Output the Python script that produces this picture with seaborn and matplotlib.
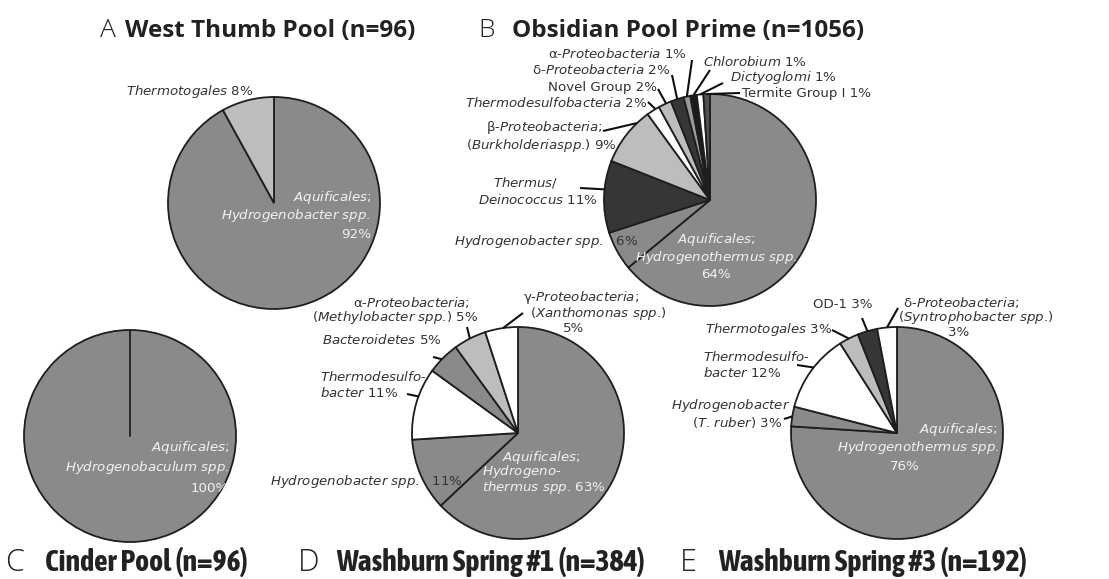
import re
import numpy as np
import matplotlib
matplotlib.use("Agg")
import matplotlib.pyplot as plt
import seaborn as sns

# ---------------- data ----------------
a_taxa = ["Aquificales; Hydrogenobacter spp.", "Thermotogales"]
a_pct = [92, 8]

b_taxa = ["Aquificales; Hydrogenothermus spp.", "Hydrogenobacter spp.",
          "Thermus/Deinococcus", "β-Proteobacteria; (Burkholderia spp.)",
          "Thermodesulfobacteria", "Novel Group", "δ-Proteobacteria",
          "α-Proteobacteria", "Chlorobium", "Dictyoglomi", "Termite Group I"]
b_pct = [64, 6, 11, 9, 2, 2, 2, 1, 1, 1, 1]

c_taxa = ["Aquificales; Hydrogenobaculum spp."]
c_pct = [100]

d_taxa = ["Aquificales; Hydrogenothermus spp.", "Hydrogenobacter spp.",
          "Thermodesulfobacter", "Bacteroidetes",
          "α-Proteobacteria; (Methylobacter spp.)",
          "γ-Proteobacteria; (Xanthomonas spp.)"]
d_pct = [63, 11, 11, 5, 5, 5]

e_taxa = ["Aquificales; Hydrogenothermus spp.", "Hydrogenobacter (T. ruber)",
          "Thermodesulfobacter", "Thermotogales", "OD-1",
          "δ-Proteobacteria; (Syntrophobacter spp.)"]
e_pct = [76, 3, 12, 3, 3, 3]

panel_letters = ["A", "B", "C", "D", "E"]
panel_titles = ["West Thumb Pool (n=96)", "Obsidian Pool Prime (n=1056)",
                "Cinder Pool (n=96)", "Washburn Spring #1 (n=384)",
                "Washburn Spring #3 (n=192)"]

# ---------------- style ----------------
sns.set_theme(style="white")
plt.rcParams['font.family'] = ['DejaVu Sans']
plt.rcParams['mathtext.fontset'] = 'dejavusans'

W, H = 1109, 579
G, LG, DK, WH = '#8a8a8a', '#bdbdbd', '#363636', '#ffffff'
EDGE = '#1e1e1e'
TXT = '#333333'
INNER = '#f2f2f2'
FS = 9.6
R = 106

a_cols = [G, LG]
b_cols = [G, G, DK, LG, WH, LG, DK, '#9a9a9a', '#1a1a1a', WH, '#505050']
c_cols = [G]
d_cols = [G, G, WH, G, LG, WH]
e_cols = [G, G, WH, LG, DK, WH]

fig = plt.figure(figsize=(W / 100, H / 100), dpi=100)
ax = fig.add_axes([0, 0, 1, 1])


def it(s):
    """italicise letter runs via mathtext"""
    return re.sub(r"[A-Za-z][A-Za-z ]*[A-Za-z]|[A-Za-z]",
                  lambda m: r"$\mathit{" + m.group(0).replace(" ", r"\ ") + "}$", s)


def txt(x, y, s, ha="left", color=TXT):
    ax.text(x, H - y, s, ha=ha, va="center", fontsize=FS, color=color)


def draw_pie(vals, cols, cx, cy):
    wedges, _ = ax.pie(vals, colors=cols, startangle=90, counterclock=False,
                       radius=R, center=(cx, H - cy),
                       wedgeprops=dict(edgecolor=EDGE, linewidth=1.3))
    return wedges


def leader(w, sx, sy, frac=0.5, rr=1.0):
    t = np.deg2rad(w.theta1 + (w.theta2 - w.theta1) * frac)
    cx, cy = w.center
    ex, ey = cx + w.r * rr * np.cos(t), cy + w.r * rr * np.sin(t)
    ax.plot([sx, ex], [H - sy, ey], color='#111111', lw=1.5,
            solid_capstyle='butt')


def pct(v):
    return f"{v}%"


# ---------------- Pie A ----------------
wa = draw_pie(a_pct, a_cols, 274, 203)
txt(126, 92, it("Thermotogales") + " " + pct(a_pct[1]))
txt(371, 198, it("Aquificales") + ";", ha="right", color=INNER)
txt(371, 216, it("Hydrogenobacter spp."), ha="right", color=INNER)
txt(371, 234, pct(a_pct[0]), ha="right", color=INNER)

# ---------------- Pie B ----------------
wb = draw_pie(b_pct, b_cols, 710, 200)
txt(716, 240, it("Aquificales") + ";", ha="center", color=INNER)
txt(716, 257, it("Hydrogenothermus spp."), ha="center", color=INNER)
txt(716, 274, pct(b_pct[0]), ha="center", color=INNER)
txt(638, 241, it("Hydrogenobacter spp.") + "   " + pct(b_pct[1]), ha="right")
txt(558, 183, it("Thermus/"), ha="right")
txt(598, 200, it("Deinococcus") + " " + pct(b_pct[2]), ha="right")
leader(wb[2], 580, 188, 0.4)
txt(603, 128, "β-" + it("Proteobacteria") + ";", ha="right")
txt(617, 146, "(" + it("Burkholderiaspp") + ".) " + pct(b_pct[3]), ha="right")
leader(wb[3], 603, 131, 0.23)
txt(647, 103, it("Thermodesulfobacteria") + " " + pct(b_pct[4]), ha="right")
leader(wb[4], 648, 102, 0.3)
txt(657, 87, "Novel Group " + pct(b_pct[5]), ha="right")
leader(wb[5], 658, 89, 0.4)
txt(670, 70, "δ-" + it("Proteobacteria") + " " + pct(b_pct[6]), ha="right")
leader(wb[6], 672, 75, 0.5)
txt(687, 54, "α-" + it("Proteobacteria") + " " + pct(b_pct[7]), ha="right")
leader(wb[7], 692, 60, 0.5)
txt(703, 62, it("Chlorobium") + " " + pct(b_pct[8]))
leader(wb[8], 710, 70, 0.5)
txt(730, 77, it("Dictyoglomi") + " " + pct(b_pct[9]))
leader(wb[9], 723, 83, 0.5)
txt(742, 93, "Termite Group I " + pct(b_pct[10]))
leader(wb[10], 740, 93, 0.5)

# ---------------- Pie C ----------------
wc = draw_pie(c_pct, c_cols, 130, 436)
cxc, cyc = wc[0].center
ax.plot([cxc, cxc + R * np.cos(np.deg2rad(90))],
        [cyc, cyc + R * np.sin(np.deg2rad(90))], color=EDGE, lw=1.3)
txt(229, 447, it("Aquificales") + ";", ha="right", color=INNER)
txt(229, 467, it("Hydrogenobaculum spp."), ha="right", color=INNER)
txt(229, 488, pct(c_pct[0]), ha="right", color=INNER)

# ---------------- Pie D ----------------
wd = draw_pie(d_pct, d_cols, 518, 433)
txt(502, 457, it("Aquificales") + ";", color=INNER)
txt(482, 472, it("Hydrogeno") + "-", color=INNER)
txt(482, 488, it("thermus spp.") + " " + pct(d_pct[0]), color=INNER)
txt(463, 481, it("Hydrogenobacter spp.") + "   " + pct(d_pct[1]), ha="right")
txt(320, 377, it("Thermodesulfo") + "-")
txt(320, 393, it("bacter") + " " + pct(d_pct[2]))
leader(wd[2], 407, 394, 0.4)
txt(442, 340, it("Bacteroidetes") + " " + pct(d_pct[3]), ha="right")
leader(wd[3], 433, 357, 0.55)
txt(470, 302, "α-" + it("Proteobacteria") + ";", ha="right")
txt(478, 318, "(" + it("Methylobacter spp") + ".) " + pct(d_pct[4]), ha="right")
leader(wd[4], 467, 327, 0.5)
txt(523, 297, "γ-" + it("Proteobacteria") + ";")
txt(530, 313, "(" + it("Xanthomonas spp") + ".)")
txt(574, 329, pct(d_pct[5]), ha="center")
leader(wd[5], 523, 313, 0.45)

# ---------------- Pie E ----------------
we = draw_pie(e_pct, e_cols, 897, 433)
txt(997, 430, it("Aquificales") + ";", ha="right", color=INNER)
txt(918, 448, it("Hydrogenothermus spp."), ha="center", color=INNER)
txt(905, 466, pct(e_pct[0]), ha="center", color=INNER)
txt(790, 406, it("Hydrogenobacter"), ha="right")
txt(782, 423, "(" + it("T") + ". " + it("ruber") + ") " + pct(e_pct[1]), ha="right")
leader(we[1], 784, 419, 0.5)
txt(703, 357, it("Thermodesulfo") + "-")
txt(703, 373, it("bacter") + " " + pct(e_pct[2]))
leader(we[2], 797, 365, 0.45)
txt(832, 330, it("Thermotogales") + " " + pct(e_pct[3]), ha="right")
leader(we[3], 832, 330, 0.5)
txt(813, 304, "OD-1 " + pct(e_pct[4]))
leader(we[4], 862, 318, 0.5)
txt(903, 302, "δ-" + it("Proteobacteria") + ";")
txt(898, 317, "(" + it("Syntrophobacter spp") + ".)")
txt(959, 332, pct(e_pct[5]), ha="center")
leader(we[5], 898, 308, 0.5)

# ---------------- titles ----------------
top_font = ['Open Sans', 'DejaVu Sans']
bot_font = ['Asap Condensed', 'Barlow Condensed', 'Open Sans', 'DejaVu Sans']
title_pos = [(100, 125, 37, top_font, 17.5, 19),
             (478, 512, 37, top_font, 17.5, 19),
             (5, 45, 571, bot_font, 21.5, 22),
             (298, 336, 571, bot_font, 21.5, 22),
             (680, 718, 571, bot_font, 21.5, 22)]
for L, T, (lx, tx, ty, fam, fs, lfs) in zip(panel_letters, panel_titles, title_pos):
    ax.text(lx, H - ty, L, family=top_font, fontsize=lfs, fontweight='light',
            color='#222222', ha='left', va='baseline')
    ax.text(tx, H - ty, T, family=fam, fontsize=fs, fontweight='bold',
            color='#222222', ha='left', va='baseline')

ax.set_xlim(0, W)
ax.set_ylim(0, H)
ax.set_aspect('equal')
ax.axis('off')
fig.savefig("out.png", dpi=100, facecolor='white')
